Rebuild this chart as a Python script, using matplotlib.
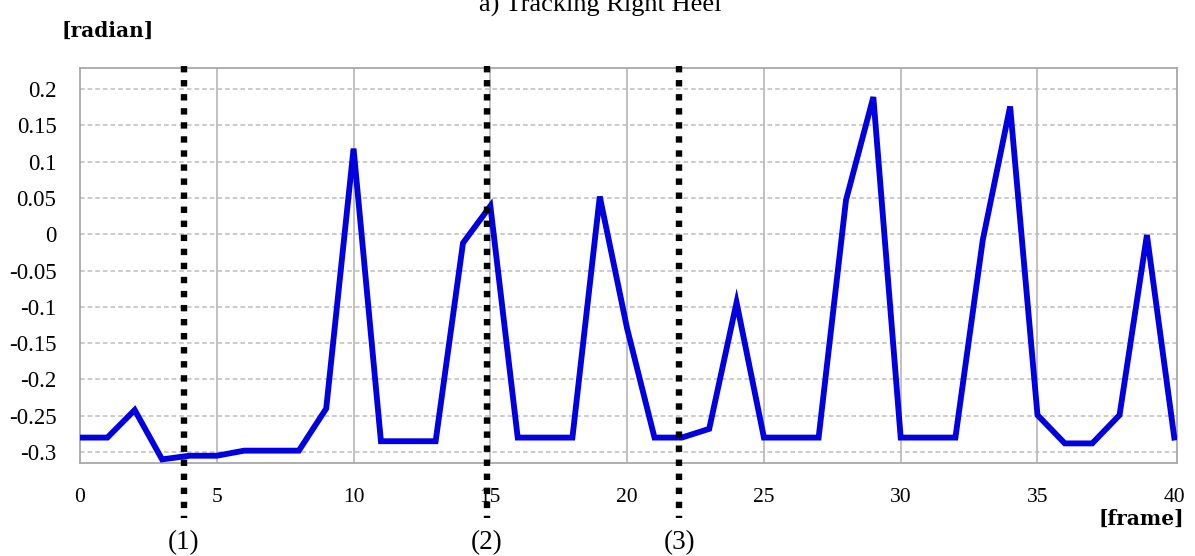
import matplotlib
matplotlib.use("Agg")
import matplotlib.pyplot as plt
import numpy as np

plt.rcParams['axes.unicode_minus'] = False

frames = list(range(0, 41))
angle = [-0.280, -0.280, -0.242, -0.310, -0.305, -0.305, -0.298, -0.298, -0.298, -0.240,
         0.118, -0.285, -0.285, -0.285, -0.012, 0.039, -0.280, -0.280, -0.280, 0.052,
         -0.130, -0.280, -0.280, -0.268, -0.094, -0.280, -0.280, -0.280, 0.047, 0.189,
         -0.280, -0.280, -0.280, -0.008, 0.176, -0.249, -0.288, -0.288, -0.249, -0.001,
         -0.280]

xticks = [0, 5, 10, 15, 20, 25, 30, 35, 40]
yticks = [-0.3, -0.25, -0.2, -0.15, -0.1, -0.05, 0, 0.05, 0.1, 0.15, 0.2]
ytick_labels = ["-0.3", "-0.25", "-0.2", "-0.15", "-0.1", "-0.05", "0", "0.05", "0.1", "0.15", "0.2"]

event_frames = [3.79, 14.88, 21.90]
event_labels = ["(1)", "(2)", "(3)"]

title = "a) Tracking Right Heel"
ylabel = "[radian]"
xlabel = "[frame]"

W, H = 1195, 556
fig = plt.figure(figsize=(W / 100, H / 100), dpi=100)
ax_l, ax_r, ax_t, ax_b = 80, 1177, 68, 463
ax = fig.add_axes([ax_l / W, 1 - ax_b / H, (ax_r - ax_l) / W, (ax_b - ax_t) / H])

ax.set_xlim(0, 40.1)
ax.set_ylim(-0.315, 0.229)

# grid
for xv in xticks[1:-1]:
    ax.axvline(xv, color='#b0b0b0', lw=1.1, zorder=1)
for yv in yticks:
    ax.axhline(yv, color='#bdbdbd', lw=1.1, ls=(0, (3, 2)), zorder=1)

ax.plot(frames, angle, color='#0000e0', lw=4.2, solid_joinstyle='miter', zorder=3)

for s in ax.spines.values():
    s.set_color('#a8a8a8')
    s.set_linewidth(1.3)

serif = ['Liberation Serif', 'DejaVu Serif']
ax.set_xticks(xticks)
ax.set_xticklabels([str(v) for v in xticks], fontsize=15.5, family=serif)
ax.set_yticks(yticks)
ax.set_yticklabels(ytick_labels, fontsize=16.5, family=serif)
ax.tick_params(axis='x', length=0, pad=18)
ax.tick_params(axis='y', length=0, pad=17)

def fy(px):
    return 1 - px / H

# dotted event markers extending beyond the axes
for xe, lab in zip(event_frames, event_labels):
    xfig = (ax_l + (xe / 40.1) * (ax_r - ax_l)) / W
    fig.add_artist(plt.Line2D([xfig, xfig], [fy(66), fy(518)], color='black', lw=4.6,
                              ls=(0, (1.0, 1.2)), dash_capstyle='butt', zorder=5))
    fig.text(xfig, fy(543), lab, ha='center', va='center', fontsize=19.5, family=serif)

fig.text(600 / W, fy(12), title, ha='center', va='baseline', fontsize=19, family=serif)
fig.text(61 / W, fy(31), ylabel, ha='left', va='center', fontsize=14.5,
         family=['DejaVu Serif'], fontweight='bold')
fig.text(1184 / W, fy(519), xlabel, ha='right', va='center', fontsize=14.5,
         family=['DejaVu Serif'], fontweight='bold')

fig.savefig('out.png', dpi=100)
